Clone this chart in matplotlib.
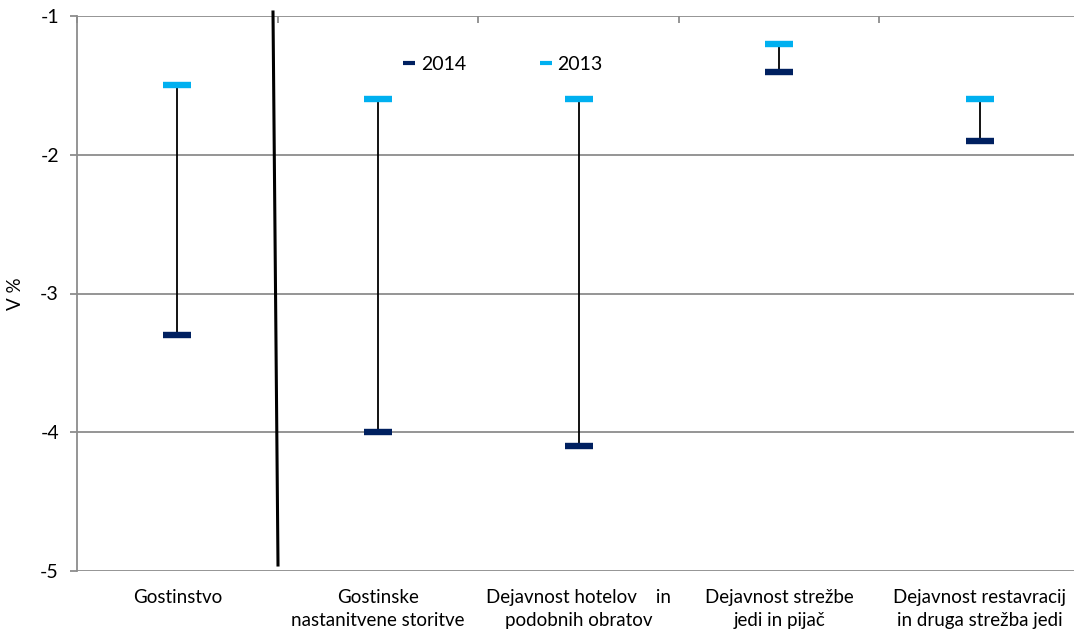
import matplotlib.pyplot as plt
import numpy as np
from matplotlib.lines import Line2D

plt.rcParams['font.family'] = ['Lato', 'DejaVu Sans']

# data
categories = ["Gostinstvo",
              "Gostinske\nnastanitvene storitve",
              "Dejavnost hotelov    in\npodobnih obratov",
              "Dejavnost strežbe\njedi in pijač",
              "Dejavnost restavracij\nin druga strežba jedi"]
val_2014 = [-3.3, -4.0, -4.1, -1.4, -1.9]
val_2013 = [-1.5, -1.6, -1.6, -1.2, -1.6]

c2014 = "#002060"
c2013 = "#00B0F0"
grid_c = "#8c8c8c"

fig = plt.figure(figsize=(10.74, 6.32), dpi=100)
ax = fig.add_axes([77 / 1074, 1 - 571 / 632, 1003 / 1074, 555 / 632])

x = np.arange(len(categories))

# high-low lines
ax.vlines(x, val_2014, val_2013, color="black", lw=1.3, zorder=2)
ax.plot(x, val_2014, ls="none", marker="_", ms=20, mew=4.6, color=c2014, zorder=3)
ax.plot(x, val_2013, ls="none", marker="_", ms=20, mew=4.6, color=c2013, zorder=3)

ax.set_xlim(-0.5, len(categories) - 0.5)
ax.set_ylim(-5, -1)
ax.set_yticks([-5, -4, -3, -2, -1])
ax.set_yticklabels(["-5", "-4", "-3", "-2", "-1"], fontsize=14)
ax.set_xticks(x)
ax.set_xticklabels(categories, fontsize=13.5, linespacing=1.45)
ax.tick_params(axis="x", length=0, pad=13)
ax.tick_params(axis="y", length=5, color=grid_c, width=1.3, pad=8)
ax.set_xticks(np.arange(len(categories) + 1) - 0.5, minor=True)
ax.tick_params(axis="x", which="minor", top=True, bottom=False, direction="in",
               length=5, color=grid_c, width=1.3)

ax.grid(axis="y", color=grid_c, lw=1.3)
ax.set_axisbelow(True)
for s in ["top", "right", "bottom"]:
    ax.spines[s].set_visible(False)
ax.spines["left"].set_color(grid_c)
ax.spines["left"].set_linewidth(1.3)

ax.set_ylabel("V %", fontsize=13.5, labelpad=12)

# separator line
fig.add_artist(Line2D([273 / 1074, 278 / 1074], [1 - 12 / 632, 1 - 565 / 632],
                      color="black", lw=2.2))

handles = [Line2D([], [], ls="none", marker="_", ms=8, mew=3, color=c2014),
           Line2D([], [], ls="none", marker="_", ms=8, mew=3, color=c2013)]
ax.legend(handles, ["2014", "2013"], ncol=2, frameon=False, fontsize=14,
          loc="center", bbox_to_anchor=(503 / 1074, 1 - 64 / 632),
          bbox_transform=fig.transFigure, handlelength=0.6, handletextpad=0.3,
          columnspacing=3.8)

fig.savefig("out.png", dpi=100)
